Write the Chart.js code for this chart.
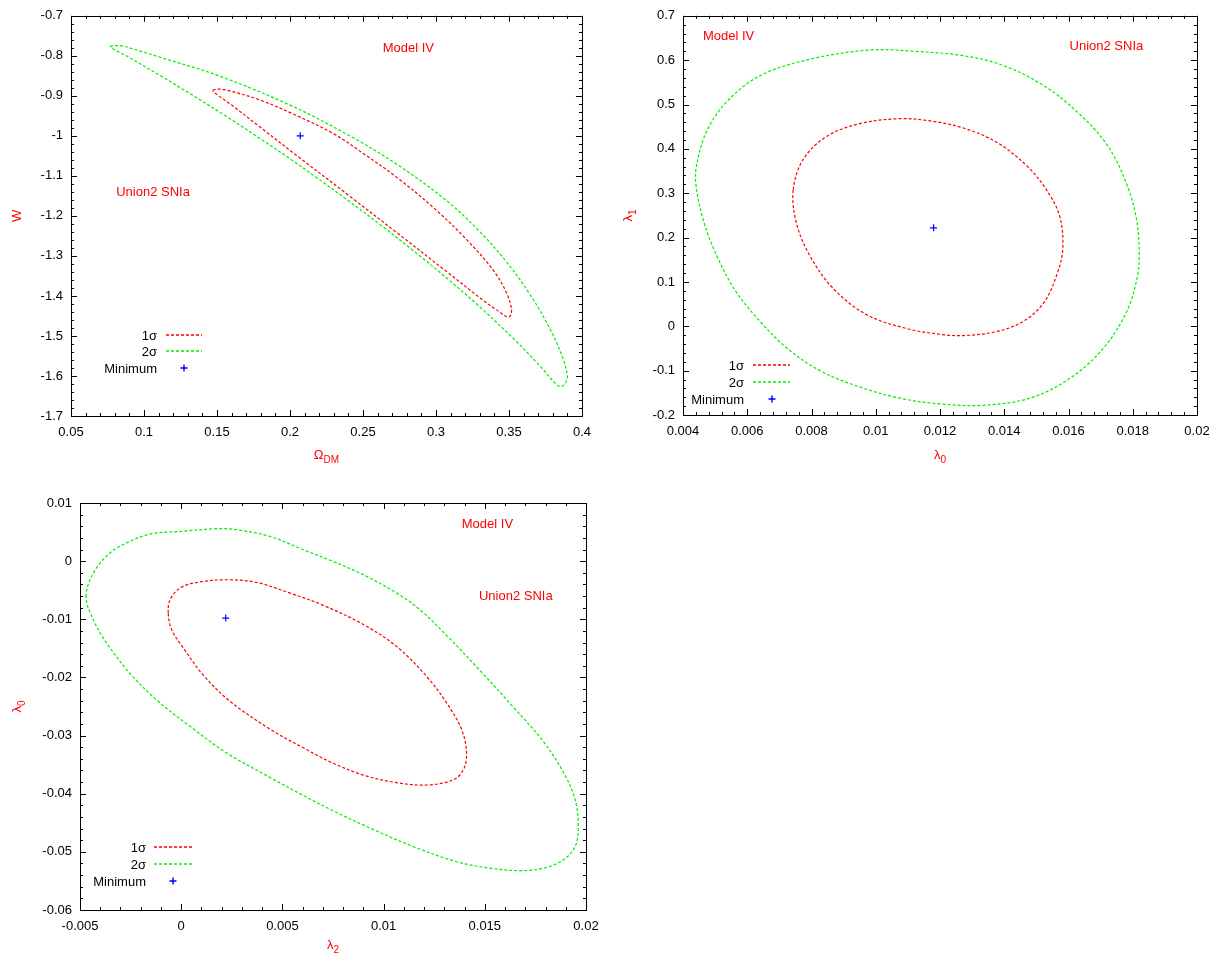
<!DOCTYPE html>
<html>
<head>
<meta charset="utf-8">
<title>Model IV – Union2 SNIa confidence contours</title>
<script src="https://cdn.jsdelivr.net/npm/chart.js@4.4.1/dist/chart.umd.min.js"></script>
<style>
  body { margin: 0; background: #fff; }
  .panel { position: absolute; }
</style>
</head>
<body>
<div class="panel" style="left:0;top:0"><canvas id="omegaW" width="600" height="480"></canvas></div>
<div class="panel" style="left:600px;top:0"><canvas id="lambda01" width="625" height="480"></canvas></div>
<div class="panel" style="left:0;top:480px"><canvas id="lambda20" width="620" height="482"></canvas></div>
<script>
// ---- Ω_DM vs w ----
const omegaTicks = [0.05, 0.1, 0.15, 0.2, 0.25, 0.3, 0.35, 0.4];
const wTicks = [-1.7, -1.6, -1.5, -1.4, -1.3, -1.2, -1.1, -1, -0.9, -0.8, -0.7];
const omegaW1sigma = [
  [0.1472, -0.887], [0.1500, -0.8835], [0.1550, -0.8845], [0.1784, -0.909], [0.2056, -0.951],
  [0.2300, -0.995], [0.2487, -1.040], [0.2736, -1.105], [0.2985, -1.180], [0.3212, -1.260],
  [0.3393, -1.336], [0.3483, -1.392], [0.3517, -1.432], [0.3510, -1.449], [0.3490, -1.453],
  [0.3438, -1.441], [0.3302, -1.405], [0.3076, -1.340], [0.2736, -1.243], [0.2396, -1.147],
  [0.2056, -1.052], [0.1784, -0.975], [0.1600, -0.923], [0.1500, -0.897], [0.1472, -0.887]
];
const omegaW2sigma = [
  [0.0770, -0.778], [0.0800, -0.7745], [0.0860, -0.7760], [0.0950, -0.7855], [0.1105, -0.803],
  [0.1513, -0.850], [0.2011, -0.925], [0.2419, -1.002], [0.2736, -1.072], [0.3076, -1.163],
  [0.3302, -1.240], [0.3483, -1.315], [0.3642, -1.395], [0.3778, -1.480], [0.3869, -1.555],
  [0.3900, -1.600], [0.3888, -1.617], [0.3860, -1.626], [0.3830, -1.623], [0.3710, -1.574],
  [0.3529, -1.506], [0.3302, -1.428], [0.3076, -1.356], [0.2849, -1.288], [0.2622, -1.223],
  [0.2396, -1.161], [0.2170, -1.101], [0.2011, -1.060], [0.1784, -1.004], [0.1558, -0.950],
  [0.1331, -0.898], [0.1105, -0.848], [0.0879, -0.800], [0.0770, -0.778]
];
const omegaWMin = [0.207, -1.0];

// ---- λ0 vs λ1 ----
const lambda0Ticks = [0.004, 0.006, 0.008, 0.01, 0.012, 0.014, 0.016, 0.018, 0.02];
const lambda1Ticks = [-0.2, -0.1, 0, 0.1, 0.2, 0.3, 0.4, 0.5, 0.6, 0.7];
const lambda01_1sigma = [
  [0.00743, 0.307], [0.00753, 0.233], [0.00795, 0.159], [0.00868, 0.085], [0.00972, 0.026],
  [0.01096, -0.005], [0.0120, -0.018], [0.01273, -0.021], [0.01376, -0.012], [0.01459, 0.011],
  [0.01522, 0.052], [0.01563, 0.115], [0.01582, 0.173], [0.01573, 0.247], [0.01532, 0.307],
  [0.0147, 0.362], [0.01376, 0.415], [0.01273, 0.447], [0.01169, 0.463], [0.01075, 0.468],
  [0.00951, 0.457], [0.00847, 0.428], [0.00774, 0.376], [0.00743, 0.307]
];
const lambda01_2sigma = [
  [0.00443, 0.366], [0.0044, 0.321], [0.00463, 0.240], [0.00505, 0.159], [0.00566, 0.077],
  [0.0064, 0.011], [0.00723, -0.049], [0.00826, -0.100], [0.00951, -0.137], [0.01075, -0.162],
  [0.0120, -0.175], [0.01335, -0.178], [0.0148, -0.162], [0.01605, -0.117], [0.01708, -0.050],
  [0.01781, 0.033], [0.01814, 0.110], [0.0182, 0.165], [0.01812, 0.240], [0.01781, 0.321],
  [0.01719, 0.410], [0.01626, 0.484], [0.01522, 0.543], [0.01397, 0.588], [0.01273, 0.610],
  [0.0112, 0.620], [0.00982, 0.623], [0.00795, 0.602], [0.0064, 0.565], [0.00536, 0.506],
  [0.00474, 0.440], [0.00443, 0.366]
];
const lambda01Min = [0.0118, 0.222];

// ---- λ2 vs λ0 ----
const lambda2Ticks = [-0.005, 0, 0.005, 0.01, 0.015, 0.02];
const lambda0bTicks = [-0.06, -0.05, -0.04, -0.03, -0.02, -0.01, 0, 0.01];
const lambda20_1sigma = [
  [-0.00064, -0.00893], [-0.00055, -0.00664], [-0.00006, -0.00463], [0.00077, -0.00367],
  [0.00225, -0.0032], [0.00373, -0.00367], [0.00538, -0.0055], [0.00702, -0.0076],
  [0.009, -0.0109], [0.01065, -0.0147], [0.01213, -0.01984], [0.01312, -0.02442],
  [0.01386, -0.02901], [0.0141, -0.03303], [0.01394, -0.0359], [0.01344, -0.03762],
  [0.01213, -0.0385], [0.01065, -0.0381], [0.009, -0.0368], [0.00735, -0.0345],
  [0.00603, -0.0321], [0.00439, -0.0289], [0.00241, -0.0241], [0.00109, -0.0196],
  [0.0001, -0.0149], [-0.00047, -0.0118], [-0.00064, -0.00893]
];
const lambda20_2sigma = [
  [-0.0047, -0.0061], [-0.00434, -0.00205], [-0.00352, 0.0014], [-0.00253, 0.0034],
  [-0.00146, 0.00472], [-0.00006, 0.0051], [0.00175, 0.00558], [0.00274, 0.0054],
  [0.00439, 0.00425], [0.00603, 0.00196], [0.0074, 0.0001], [0.009, -0.00234],
  [0.01065, -0.0055], [0.0118, -0.00837], [0.01312, -0.0128], [0.01476, -0.0188],
  [0.01641, -0.0251], [0.01789, -0.0310], [0.01888, -0.0363], [0.01946, -0.0410],
  [0.01962, -0.0457], [0.01946, -0.0491], [0.01888, -0.05139], [0.01789, -0.05282],
  [0.01674, -0.05323], [0.01526, -0.0528], [0.01361, -0.0517], [0.01147, -0.0491],
  [0.00933, -0.0459], [0.0076, -0.0431], [0.00603, -0.0403], [0.00439, -0.0372],
  [0.00225, -0.0330], [0.00043, -0.0284], [-0.00121, -0.0239], [-0.00253, -0.0193],
  [-0.00368, -0.0141], [-0.00434, -0.0101], [-0.0047, -0.0061]
];
const lambda20Min = [0.0022, -0.0098];

const FONT = '"Liberation Sans", Arial, Helvetica, sans-serif';
Chart.defaults.font.family = FONT;

const fmt = v => String(parseFloat(Number(v).toFixed(6)));
const HIDDEN = 'rgba(0,0,0,0)';

// closed contour: one extra point is wrapped on each side so the spline
// has proper neighbours at the seam; the two wrap segments are not stroked
function contour(label, pts, color) {
  const ring = [pts[pts.length - 2]].concat(pts, [pts[1]]);
  const last = ring.length - 2;
  return {
    label: label,
    data: ring.map(p => ({ x: p[0], y: p[1] })),
    showLine: true,
    borderColor: color,
    borderWidth: 1.2,
    borderDash: [3, 2],
    pointRadius: 0,
    tension: 0.35,
    fill: false,
    segment: {
      borderColor: c => (c.p0DataIndex === 0 || c.p0DataIndex >= last) ? HIDDEN : undefined
    }
  };
}

function minimum(pt) {
  return {
    label: 'Minimum',
    data: [{ x: pt[0], y: pt[1] }],
    showLine: false,
    pointStyle: 'cross',
    pointRadius: 3.5,
    borderColor: '#0000ff',
    backgroundColor: '#0000ff',
    borderWidth: 1.2
  };
}

function axis(ticks, size, isX) {
  return {
    type: 'linear',
    min: ticks[0],
    max: ticks[ticks.length - 1],
    afterBuildTicks: s => { s.ticks = ticks.map(v => ({ value: v })); },
    afterFit: s => { if (isX) s.height = size; else s.width = size; },
    grid: { display: false, drawTicks: false },
    border: { display: false },
    ticks: {
      font: { size: 13 }, color: '#000', padding: isX ? 9 : 8,
      autoSkip: false, maxRotation: 0, callback: fmt
    }
  };
}

// text with an optional subscript, centred on (x, y)
function subText(ctx, t, x, y) {
  ctx.font = '13px ' + FONT;
  const w1 = ctx.measureText(t.main).width;
  ctx.font = '10px ' + FONT;
  const w2 = t.sub ? ctx.measureText(t.sub).width : 0;
  const x0 = x - (w1 + w2) / 2;
  ctx.textAlign = 'left';
  ctx.textBaseline = 'middle';
  ctx.font = '13px ' + FONT;
  ctx.fillText(t.main, x0, y);
  if (t.sub) {
    ctx.font = '10px ' + FONT;
    ctx.fillText(t.sub, x0 + w1, y + 5);
  }
}

// gnuplot-like frame: border, inward tics, axis titles, notes and key
const gnuplotDecor = {
  id: 'gnuplotDecor',
  afterDatasetsDraw(chart, args, o) {
    const ctx = chart.ctx, a = chart.chartArea;
    const xs = chart.scales.x, ys = chart.scales.y;
    ctx.save();
    ctx.strokeStyle = '#000';
    ctx.lineWidth = 1;
    ctx.setLineDash([]);

    const tic = (s, v, len) => {
      const p = Math.round(s.getPixelForValue(v)) + 0.5;
      ctx.beginPath();
      if (s === xs) {
        ctx.moveTo(p, a.bottom); ctx.lineTo(p, a.bottom - len);
        ctx.moveTo(p, a.top); ctx.lineTo(p, a.top + len);
      } else {
        ctx.moveTo(a.left, p); ctx.lineTo(a.left + len, p);
        ctx.moveTo(a.right, p); ctx.lineTo(a.right - len, p);
      }
      ctx.stroke();
    };
    [xs, ys].forEach(s => {
      const t = s.ticks.map(k => k.value);
      t.forEach((v, i) => {
        tic(s, v, 6);
        if (i < t.length - 1) {
          for (let m = 1; m < 5; m++) tic(s, v + (t[i + 1] - v) * m / 5, 3);
        }
      });
    });
    ctx.strokeRect(Math.round(a.left) + 0.5, Math.round(a.top) + 0.5,
      Math.round(a.right - a.left), Math.round(a.bottom - a.top));

    // axis titles
    ctx.fillStyle = '#ff0000';
    subText(ctx, o.xTitle, (a.left + a.right) / 2, a.bottom + o.xTitleGap);
    ctx.save();
    ctx.translate(a.left - o.yTitleGap, (a.top + a.bottom) / 2);
    ctx.rotate(-Math.PI / 2);
    subText(ctx, o.yTitle, 0, 0);
    ctx.restore();

    // notes placed in data coordinates
    ctx.font = '13px ' + FONT;
    ctx.textAlign = 'center';
    ctx.textBaseline = 'middle';
    o.notes.forEach(n => {
      ctx.fillText(n.text, xs.getPixelForValue(n.x), ys.getPixelForValue(n.y));
    });

    // key
    const k = o.key;
    chart.data.datasets.forEach((ds, i) => {
      const y = Math.round(a.top + k.top + i * k.gap);
      ctx.fillStyle = '#000';
      ctx.font = '13px ' + FONT;
      ctx.textAlign = 'right';
      ctx.textBaseline = 'middle';
      ctx.fillText(ds.label, a.left + k.right, y);
      const x0 = Math.round(a.left + k.lineFrom), x1 = Math.round(a.left + k.lineTo);
      const ly = y - 1;
      ctx.strokeStyle = ds.borderColor;
      ctx.lineWidth = 1.4;
      ctx.beginPath();
      if (ds.showLine) {
        ctx.setLineDash(ds.borderDash);
        ctx.moveTo(x0, ly); ctx.lineTo(x1, ly);
      } else {
        const cx = Math.round((x0 + x1) / 2), r = ds.pointRadius;
        ctx.setLineDash([]);
        ctx.moveTo(cx - r, ly); ctx.lineTo(cx + r, ly);
        ctx.moveTo(cx, ly - r); ctx.lineTo(cx, ly + r);
      }
      ctx.stroke();
    });
    ctx.setLineDash([]);
    ctx.restore();
  }
};

function makePlot(id, cfg) {
  return new Chart(document.getElementById(id), {
    type: 'scatter',
    data: {
      datasets: [
        contour('1σ', cfg.sigma1, '#ff0000'),
        contour('2σ', cfg.sigma2, '#00ee00'),
        minimum(cfg.min)
      ]
    },
    options: {
      responsive: false,
      animation: false,
      events: [],
      layout: { padding: cfg.padding },
      scales: {
        x: axis(cfg.xTicks, cfg.xAxisHeight, true),
        y: axis(cfg.yTicks, cfg.yAxisWidth, false)
      },
      plugins: {
        legend: { display: false },
        tooltip: { enabled: false },
        gnuplotDecor: cfg.decor
      }
    },
    plugins: [gnuplotDecor]
  });
}

makePlot('omegaW', {
  sigma1: omegaW1sigma, sigma2: omegaW2sigma, min: omegaWMin,
  xTicks: omegaTicks, yTicks: wTicks,
  padding: { left: 0, top: 9, right: 14, bottom: 0 },
  xAxisHeight: 64, yAxisWidth: 71,
  decor: {
    xTitle: { main: 'Ω', sub: 'DM' }, xTitleGap: 39,
    yTitle: { main: 'W' }, yTitleGap: 54,
    notes: [{ text: 'Model IV', x: 0.2811, y: -0.781 }, { text: 'Union2 SNIa', x: 0.1062, y: -1.142 }],
    key: { right: 86, top: 320, gap: 16.4, lineFrom: 95, lineTo: 131 }
  }
});

makePlot('lambda01', {
  sigma1: lambda01_1sigma, sigma2: lambda01_2sigma, min: lambda01Min,
  xTicks: lambda0Ticks, yTicks: lambda1Ticks,
  padding: { left: 0, top: 9, right: 28, bottom: 0 },
  xAxisHeight: 65, yAxisWidth: 83,
  decor: {
    xTitle: { main: 'λ', sub: '0' }, xTitleGap: 40,
    yTitle: { main: 'λ', sub: '1' }, yTitleGap: 55,
    notes: [{ text: 'Model IV', x: 0.00542, y: 0.654 }, { text: 'Union2 SNIa', x: 0.01718, y: 0.632 }],
    key: { right: 61, top: 350, gap: 17, lineFrom: 70, lineTo: 107 }
  }
});

makePlot('lambda20', {
  sigma1: lambda20_1sigma, sigma2: lambda20_2sigma, min: lambda20Min,
  xTicks: lambda2Ticks, yTicks: lambda0bTicks,
  padding: { left: 0, top: 23, right: 34, bottom: 0 },
  xAxisHeight: 52, yAxisWidth: 80,
  decor: {
    xTitle: { main: 'λ', sub: '2' }, xTitleGap: 35,
    yTitle: { main: 'λ', sub: '0' }, yTitleGap: 63,
    notes: [{ text: 'Model IV', x: 0.01513, y: 0.00627 }, { text: 'Union2 SNIa', x: 0.01653, y: -0.00608 }],
    key: { right: 66, top: 344.5, gap: 17, lineFrom: 74, lineTo: 112 }
  }
});
</script>
</body>
</html>
